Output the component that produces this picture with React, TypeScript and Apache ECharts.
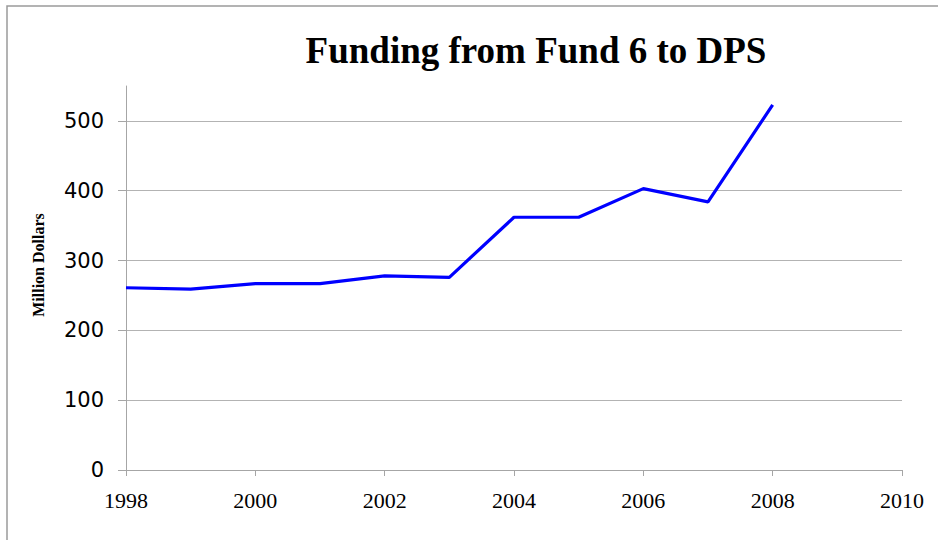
import React, { useEffect, useRef } from "react";
import * as echarts from "echarts";

const years = [1998, 1999, 2000, 2001, 2002, 2003, 2004, 2005, 2006, 2007, 2008];
const funding = [261, 259, 267, 267, 278, 276, 362, 362, 403, 384, 523];
const yTicks = [0, 100, 200, 300, 400, 500];
const titleText = "Funding from Fund 6 to DPS";
const yAxisTitle = "Million Dollars";

export default function App() {
  const ref = useRef<HTMLDivElement>(null);
  useEffect(() => {
    if (!ref.current) return;
    const chart = echarts.init(ref.current, null, { renderer: "svg" });
    const gridGray = "#b3b3b3";
    const axisGray = "#a6a6a6";
    chart.setOption({
      animation: false,
      backgroundColor: "#ffffff",
      grid: { left: 126, right: 36, top: 86, bottom: 70, containLabel: false },
      xAxis: {
        type: "value",
        min: 1998,
        max: 2010,
        interval: 2,
        axisLine: { show: true, onZero: false, lineStyle: { color: axisGray, width: 1 } },
        axisTick: { show: true, inside: false, length: 6, lineStyle: { color: axisGray } },
        splitLine: { show: false },
        axisLabel: {
          margin: 19,
          color: "#000",
          fontFamily: "Liberation Serif",
          fontSize: 22,
          formatter: (v: number) => String(v),
        },
      },
      yAxis: {
        type: "value",
        min: 0,
        max: 550,
        interval: 100,
        axisLine: { show: true, lineStyle: { color: axisGray, width: 1 } },
        axisTick: {
          show: true,
          inside: false,
          length: 8,
          customValues: yTicks,
          lineStyle: { color: axisGray },
        },
        splitLine: {
          show: true,
          lineStyle: {
            color: [gridGray, gridGray, gridGray, gridGray, gridGray, gridGray, "rgba(0,0,0,0)"],
            width: 1,
          },
        },
        axisLabel: {
          customValues: yTicks,
          margin: 22,
          color: "#000",
          fontFamily: "DejaVu Sans",
          fontSize: 21,
        },
      },
      graphic: [
        {
          type: "rect",
          shape: { x: 7, y: 6, width: 960, height: 560 },
          style: { fill: "none", stroke: "#9a9a9a", lineWidth: 1.5 },
          silent: true,
          z: 0,
        },
        {
          type: "text",
          x: 536,
          y: 50,
          style: {
            text: titleText,
            font: "bold 37px 'Liberation Serif'",
            fill: "#000",
            textAlign: "center",
            textVerticalAlign: "middle",
          },
        },
        {
          type: "text",
          x: 38,
          y: 265,
          rotation: Math.PI / 2,
          style: {
            text: yAxisTitle,
            font: "bold 16px 'Liberation Serif'",
            fill: "#000",
            textAlign: "center",
            textVerticalAlign: "middle",
          },
        },
      ],
      series: [
        {
          type: "line",
          data: years.map((y, i) => [y, funding[i]]),
          showSymbol: false,
          symbol: "none",
          clip: false,
          lineStyle: { color: "#0000ff", width: 3.2 },
          z: 5,
        },
      ],
    });
    return () => chart.dispose();
  }, []);
  return (
    <div
      ref={ref}
      style={{ position: "fixed", left: 0, top: 0, width: 938, height: 540, background: "#fff" }}
    />
  );
}
